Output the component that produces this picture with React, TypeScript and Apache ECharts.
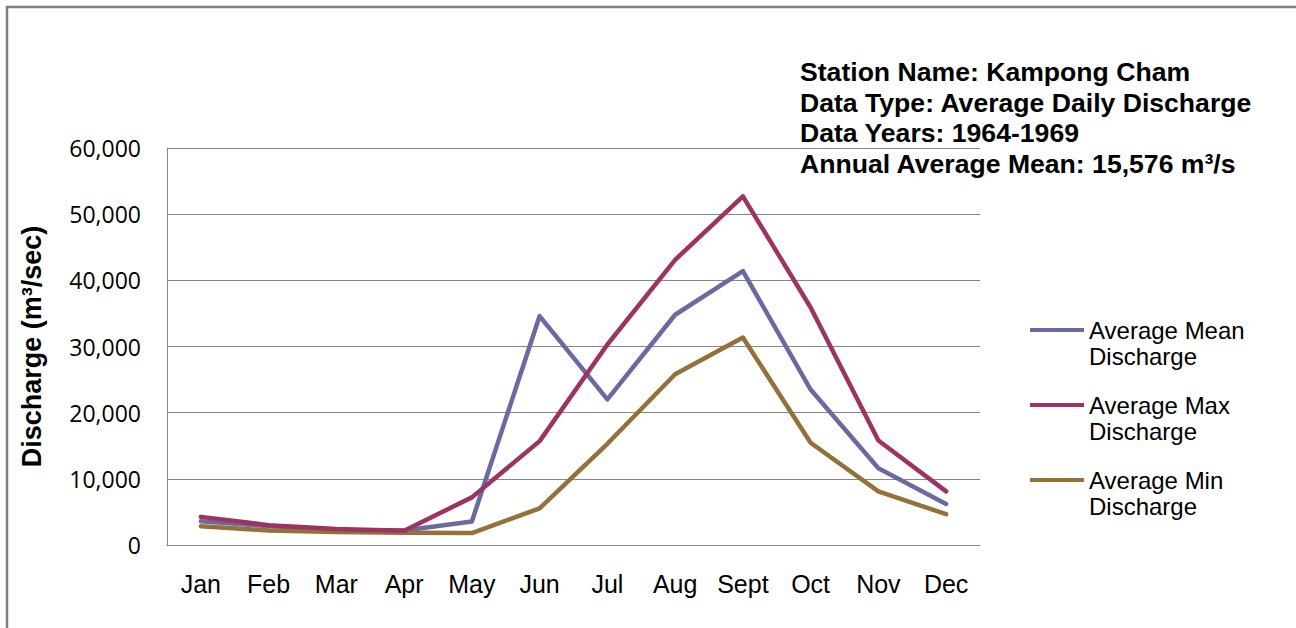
import React, { useEffect, useRef } from "react";
import * as echarts from "echarts";

const months = ["Jan", "Feb", "Mar", "Apr", "May", "Jun", "Jul", "Aug", "Sept", "Oct", "Nov", "Dec"];
const meanDischarge = [3600, 2850, 2250, 2200, 3550, 34600, 22000, 34800, 41400, 23500, 11600, 6200];
const maxDischarge = [4250, 3000, 2400, 2150, 7200, 15700, 30300, 43100, 52700, 35900, 15800, 8100];
const minDischarge = [2850, 2200, 1950, 1850, 1800, 5550, 15300, 25800, 31350, 15450, 8100, 4650];
const seriesNames = ["Average Mean Discharge", "Average Max Discharge", "Average Min Discharge"];
const seriesColors = ["#6a6aa1", "#9c3363", "#937139"];
const titleLines = [
  "Station Name: Kampong Cham",
  "Data Type: Average Daily Discharge",
  "Data Years: 1964-1969",
  "Annual Average Mean: 15,576 m³/s",
];
const yMin = 0;
const yMax = 60000;
const yInterval = 10000;

export default function App() {
  const ref = useRef<HTMLDivElement>(null);
  useEffect(() => {
    if (!ref.current) return;
    const chart = echarts.init(ref.current, null, { renderer: "svg" });
    const seriesData = [meanDischarge, maxDischarge, minDischarge];
    const legendTops = [291, 366, 441];
    chart.setOption({
      animation: false,
      backgroundColor: "#ffffff",
      title: {
        text: titleLines.join("\n"),
        left: 800,
        top: 57,
        padding: 0,
        textStyle: {
          fontFamily: "Liberation Sans, Arial, sans-serif",
          fontSize: 26.6,
          fontWeight: "bold",
          color: "#000",
          lineHeight: 30.5,
        },
      },
      legend: seriesNames.map((n, i) => ({
        data: [n],
        orient: "vertical",
        left: 1030,
        top: legendTops[i],
        padding: 0,
        itemWidth: 54,
        itemHeight: 4,
        itemGap: 0,
        icon: "rect",
        selectedMode: false,
        formatter: (name: string) => "\n" + name.replace(" Discharge", "\nDischarge"),
        textStyle: {
          fontFamily: "Liberation Sans, Arial, sans-serif",
          fontSize: 24,
          color: "#000",
          lineHeight: 26,
        },
      })),
      graphic: [
        {
          type: "rect",
          shape: { x: 7, y: 7, width: 1300, height: 640 },
          style: { fill: "none", stroke: "#808080", lineWidth: 2.5 },
          silent: true,
        },
      ],
      grid: { left: 167, right: 316, top: 148, bottom: 83 },
      xAxis: {
        type: "category",
        data: months,
        boundaryGap: true,
        axisLine: { show: true, lineStyle: { color: "#868686", width: 1 } },
        axisTick: { show: false },
        axisLabel: {
          fontFamily: "Liberation Sans, Arial, sans-serif",
          fontSize: 25,
          color: "#000",
          margin: 26,
        },
      },
      yAxis: {
        type: "value",
        min: yMin,
        max: yMax,
        interval: yInterval,
        name: "Discharge (m³/sec)",
        nameLocation: "middle",
        nameGap: 122,
        nameTextStyle: {
          fontFamily: "Liberation Sans, Arial, sans-serif",
          fontSize: 27,
          fontWeight: "bold",
          color: "#000",
        },
        axisLine: { show: true, lineStyle: { color: "#868686", width: 1 } },
        axisTick: { show: false },
        splitLine: { show: true, lineStyle: { color: "#868686", width: 1 } },
        axisLabel: {
          fontFamily: "Open Sans, sans-serif",
          fontSize: 23,
          color: "#000",
          margin: 26,
          formatter: (v: number) => v.toLocaleString("en-US"),
        },
      },
      series: seriesNames.map((n, i) => ({
        name: n,
        type: "line",
        data: seriesData[i],
        showSymbol: false,
        symbol: "none",
        lineStyle: { color: seriesColors[i], width: 4.5, cap: "round", join: "round" },
        itemStyle: { color: seriesColors[i] },
        z: i === 1 ? 3 : 2,
      })),
    });
    return () => chart.dispose();
  }, []);
  return (
    <div
      ref={ref}
      style={{ position: "fixed", left: 0, top: 0, width: 1296, height: 628 }}
    />
  );
}
